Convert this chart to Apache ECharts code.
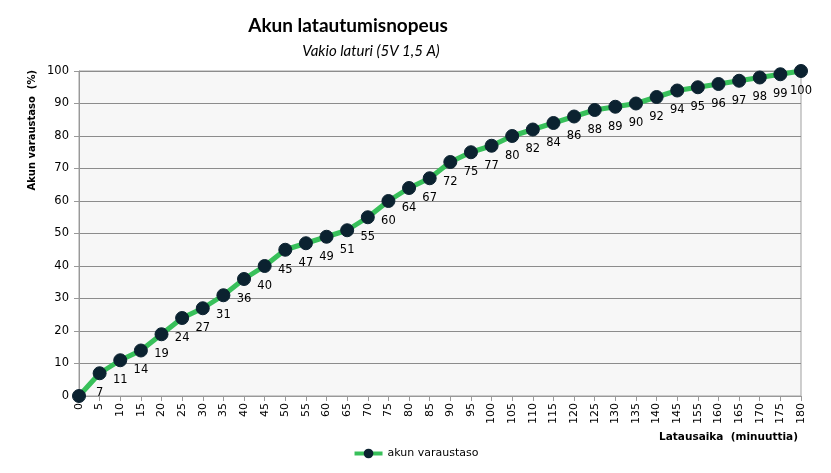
<!DOCTYPE html>
<html><head><meta charset="utf-8">
<script src="https://cdn.jsdelivr.net/npm/echarts@6/dist/echarts.min.js"></script>
<style>html,body{margin:0;padding:0;background:#fff}#c{width:831px;height:473px}</style>
</head><body><div id="c"></div>
<script>
const minutes = ['0','5','10','15','20','25','30','35','40','45','50','55','60','65','70','75','80','85','90','95','100','105','110','115','120','125','130','135','140','145','155','160','165','170','175','180'];
const charge = [0,7,11,14,19,24,27,31,36,40,45,47,49,51,55,60,64,67,72,75,77,80,82,84,86,88,89,90,92,94,95,96,97,98,99,100];
const yTicks = {min:0, max:100, interval:10};

const chart = echarts.init(document.getElementById('c'));
chart.setOption({
  animation:false,
  backgroundColor:'#fff',
  title:[{text:'Akun latautumisnopeus', left:343, top:11, textAlign:'center',
    textStyle:{fontFamily:'Lato', fontSize:19, fontWeight:'bold', color:'#000'}},
    {text:'Vakio laturi (5V 1,5 A)', left:366, top:39, textAlign:'center',
    textStyle:{fontFamily:'Lato', fontSize:15, fontStyle:'italic', fontWeight:'normal', color:'#000'}}],
  grid:{left:79, right:30, top:71, bottom:77, show:true, backgroundColor:'#f7f7f7', borderColor:'#a0a0a0', borderWidth:1},
  legend:{bottom:9, left:'center', itemWidth:28, itemHeight:12, itemGap:10,
    lineStyle:{width:4},
    textStyle:{fontFamily:'DejaVu Sans', fontSize:11, color:'#000'}},
  graphic:[
    {type:'text', left:27, top:70, rotation:Math.PI/2, style:{text:'Akun varaustaso  (%)', font:'bold 10px DejaVu Sans', fill:'#000'}},
    {type:'text', right:33, top:432, style:{text:'Latausaika  (minuuttia)', font:'bold 10.5px DejaVu Sans', fill:'#000'}}
  ],
  xAxis:{type:'category', data:minutes, boundaryGap:false,
    axisLine:{lineStyle:{color:'#999'}}, axisTick:{alignWithLabel:true, length:5, lineStyle:{color:'#999'}},
    axisLabel:{rotate:90, interval:0, fontFamily:'DejaVu Sans', fontSize:11, color:'#000', margin:7},
    splitLine:{show:false}},
  yAxis:{type:'value', min:yTicks.min, max:yTicks.max, interval:yTicks.interval,
    axisLine:{show:true, lineStyle:{color:'#999'}}, axisTick:{show:true, length:5, lineStyle:{color:'#999'}},
    axisLabel:{fontFamily:'DejaVu Sans', fontSize:11.5, color:'#000', margin:10},
    splitLine:{lineStyle:{color:'#8c8c8c', width:1}}},
  series:[{
    name:'akun varaustaso', type:'line', data:charge,
    lineStyle:{color:'#38c05a', width:5}, itemStyle:{color:'#0b2230', borderColor:'#0b2230'},
    symbol:'circle', symbolSize:13,
    label:{show:true, position:'bottom', distance:7, fontFamily:'DejaVu Sans', fontSize:11.5, color:'#000',
      formatter:p=>p.dataIndex===0?'':p.value}
  }]
});
</script></body></html>
